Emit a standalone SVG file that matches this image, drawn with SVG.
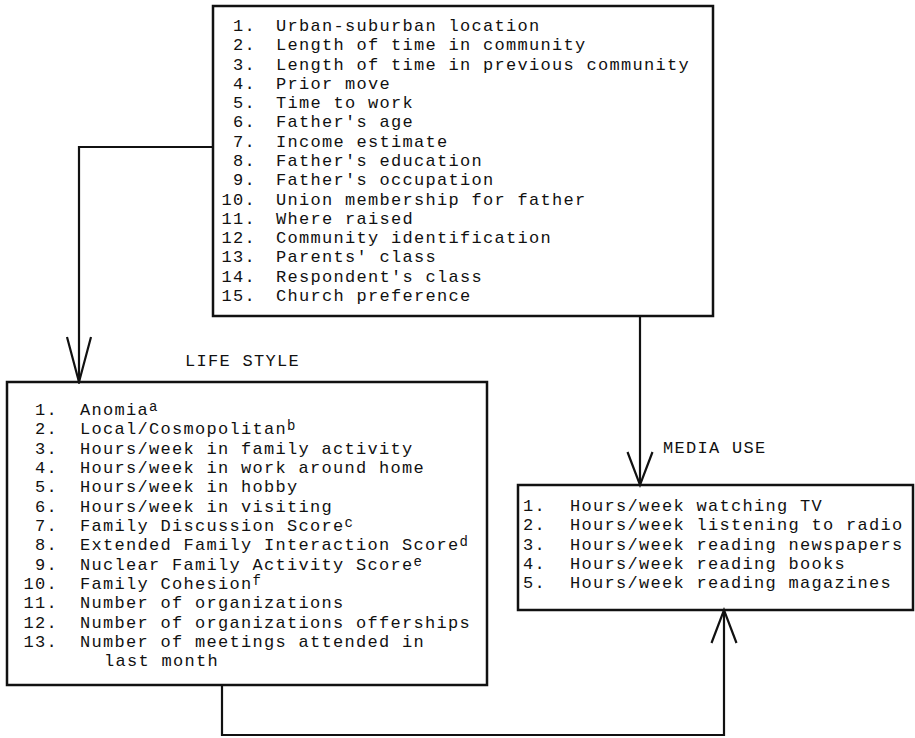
<svg xmlns="http://www.w3.org/2000/svg" width="915" height="738" viewBox="0 0 915 738">
<style>
  .bg { fill: #ffffff; }
  .box { fill: none; stroke: #111; stroke-width: 2.5; }
  .conn { fill: none; stroke: #111; stroke-width: 2.2; }
  text { font-family: "Liberation Mono", "DejaVu Sans Mono", monospace; font-size: 17px; letter-spacing: 1.3px; fill: #111; }
  .num { text-anchor: end; }
  .sup { font-size: 14px; }
</style>
<defs>
  <marker id="arrow" markerUnits="userSpaceOnUse" markerWidth="40" markerHeight="30" viewBox="-36 -15 40 30" refX="0" refY="0" orient="auto">
    <path d="M-33,-12.5 L0,0 L-33,12.5" fill="none" stroke="#111" stroke-width="2.2"/>
  </marker>
  <marker id="arrowLong" markerUnits="userSpaceOnUse" markerWidth="50" markerHeight="30" viewBox="-48 -15 50 30" refX="0" refY="0" orient="auto">
    <path d="M-45,-12 L0,0 L-45,12" fill="none" stroke="#111" stroke-width="2.2"/>
  </marker>
</defs>
<rect class="bg" x="0" y="0" width="915" height="738"/>

<g id="connectors">
  <path class="conn" d="M213,147 L79,147 L79,382" marker-end="url(#arrowLong)"/>
  <path class="conn" d="M640,316 L640,485" marker-end="url(#arrow)"/>
  <path class="conn" d="M222,685 L222,735 L724,735 L724,610" marker-end="url(#arrow)"/>
</g>

<g id="background-node">
  <rect class="box" x="213" y="6" width="500" height="310"/>
  <text class="num" x="256" y="31">1.</text><text x="276" y="31">Urban-suburban location</text>
  <text class="num" x="256" y="50.3">2.</text><text x="276" y="50.3">Length of time in community</text>
  <text class="num" x="256" y="69.6">3.</text><text x="276" y="69.6">Length of time in previous community</text>
  <text class="num" x="256" y="88.8">4.</text><text x="276" y="88.8">Prior move</text>
  <text class="num" x="256" y="108.1">5.</text><text x="276" y="108.1">Time to work</text>
  <text class="num" x="256" y="127.4">6.</text><text x="276" y="127.4">Father's age</text>
  <text class="num" x="256" y="146.7">7.</text><text x="276" y="146.7">Income estimate</text>
  <text class="num" x="256" y="166">8.</text><text x="276" y="166">Father's education</text>
  <text class="num" x="256" y="185.2">9.</text><text x="276" y="185.2">Father's occupation</text>
  <text class="num" x="256" y="204.5">10.</text><text x="276" y="204.5">Union membership for father</text>
  <text class="num" x="256" y="223.8">11.</text><text x="276" y="223.8">Where raised</text>
  <text class="num" x="256" y="243.1">12.</text><text x="276" y="243.1">Community identification</text>
  <text class="num" x="256" y="262.4">13.</text><text x="276" y="262.4">Parents' class</text>
  <text class="num" x="256" y="281.6">14.</text><text x="276" y="281.6">Respondent's class</text>
  <text class="num" x="256" y="300.9">15.</text><text x="276" y="300.9">Church preference</text>
</g>

<g id="life-style">
  <text x="185" y="366">LIFE STYLE</text>
  <rect class="box" x="7" y="382" width="480" height="303"/>
  <text class="num" x="58" y="415">1.</text><text x="80" y="415">Anomia<tspan class="sup" dy="-4">a</tspan></text>
  <text class="num" x="58" y="434.3">2.</text><text x="80" y="434.3">Local/Cosmopolitan<tspan class="sup" dy="-4">b</tspan></text>
  <text class="num" x="58" y="453.7">3.</text><text x="80" y="453.7">Hours/week in family activity</text>
  <text class="num" x="58" y="473">4.</text><text x="80" y="473">Hours/week in work around home</text>
  <text class="num" x="58" y="492.3">5.</text><text x="80" y="492.3">Hours/week in hobby</text>
  <text class="num" x="58" y="511.7">6.</text><text x="80" y="511.7">Hours/week in visiting</text>
  <text class="num" x="58" y="531">7.</text><text x="80" y="531">Family Discussion Score<tspan class="sup" dy="-4">c</tspan></text>
  <text class="num" x="58" y="550.3">8.</text><text x="80" y="550.3">Extended Family Interaction Score<tspan class="sup" dy="-4">d</tspan></text>
  <text class="num" x="58" y="569.6">9.</text><text x="80" y="569.6">Nuclear Family Activity Score<tspan class="sup" dy="-4">e</tspan></text>
  <text class="num" x="58" y="589">10.</text><text x="80" y="589">Family Cohesion<tspan class="sup" dy="-4">f</tspan></text>
  <text class="num" x="58" y="608.3">11.</text><text x="80" y="608.3">Number of organizations</text>
  <text class="num" x="58" y="627.6">12.</text><text x="80" y="627.6">Number of organizations offerships</text>
  <text class="num" x="58" y="647">13.</text><text x="80" y="647">Number of meetings attended in</text>
  <text x="104" y="666.3">last month</text>
</g>

<g id="media-use">
  <text x="663" y="453">MEDIA USE</text>
  <rect class="box" x="518" y="485" width="395" height="125"/>
  <text x="523" y="511">1.</text><text x="570" y="511">Hours/week watching TV</text>
  <text x="523" y="530.25">2.</text><text x="570" y="530.25">Hours/week listening to radio</text>
  <text x="523" y="549.5">3.</text><text x="570" y="549.5">Hours/week reading newspapers</text>
  <text x="523" y="568.75">4.</text><text x="570" y="568.75">Hours/week reading books</text>
  <text x="523" y="588">5.</text><text x="570" y="588">Hours/week reading magazines</text>
</g>
</svg>
